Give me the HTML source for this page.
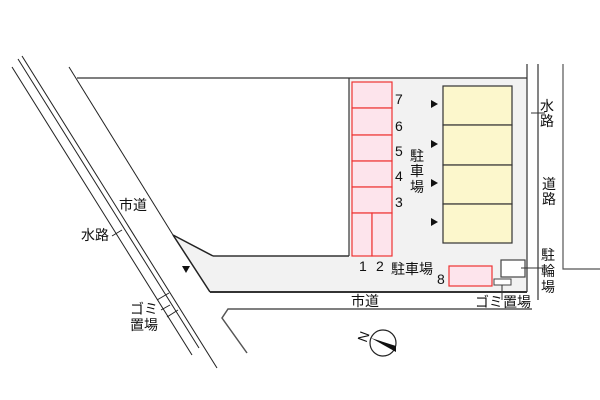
<!DOCTYPE html>
<html><head><meta charset="utf-8"><style>
html,body{margin:0;padding:0;background:#fff;}
svg{display:block;}
text{font-family:"Liberation Sans","Noto Sans CJK JP",sans-serif;font-size:14px;fill:#111;}
</style></head><body>
<svg width="600" height="400" viewBox="0 0 600 400" xmlns="http://www.w3.org/2000/svg">
<polygon points="173,235 213,256 349,256 349,78 527,78 527,292 210,292" fill="#f2f2f2"/>
<polygon points="77,78 349,78 349,256 213,256 173,235" fill="#fff"/>
<line x1="77" y1="78" x2="527" y2="78" stroke="#333" stroke-width="1.2"/>
<line x1="349" y1="78" x2="349" y2="256" stroke="#333" stroke-width="1.2"/>
<line x1="213" y1="256" x2="349" y2="256" stroke="#333" stroke-width="1.5"/>
<line x1="173" y1="235" x2="213" y2="256" stroke="#222" stroke-width="1.5"/>
<line x1="173" y1="235" x2="210" y2="292" stroke="#222" stroke-width="1.5"/>
<line x1="210" y1="292" x2="527" y2="292" stroke="#333" stroke-width="2"/>
<line x1="527" y1="64" x2="527" y2="292" stroke="#333" stroke-width="1.2"/>
<line x1="538" y1="64" x2="538" y2="300" stroke="#333" stroke-width="1.2"/>
<polyline points="563,64 563,269 600,269" fill="none" stroke="#555" stroke-width="1.2"/>
<polyline points="247,353 222,318 228,309 532,309" fill="none" stroke="#555" stroke-width="1.5"/>
<line x1="69" y1="67" x2="173" y2="235" stroke="#222" stroke-width="1"/>
<line x1="12" y1="67" x2="192" y2="355" stroke="#222" stroke-width="1"/>
<line x1="18" y1="59" x2="199" y2="348" stroke="#222" stroke-width="1"/>
<line x1="22" y1="56" x2="217" y2="368" stroke="#222" stroke-width="1"/>
<line x1="157" y1="300" x2="169" y2="293" stroke="#222" stroke-width="1"/>
<line x1="167" y1="317" x2="178" y2="310" stroke="#222" stroke-width="1"/>
<line x1="161" y1="310" x2="170" y2="305" stroke="#222" stroke-width="1"/>
<line x1="112" y1="236" x2="122" y2="230" stroke="#222" stroke-width="1"/>
<polygon points="182,266 190,266 186,273" fill="#111"/>
<g fill="#fde4ec" stroke="#e33" stroke-width="1.2">
<rect x="352" y="82" width="40" height="26"/>
<rect x="352" y="108" width="40" height="27"/>
<rect x="352" y="135" width="40" height="26"/>
<rect x="352" y="161" width="40" height="26"/>
<rect x="352" y="187" width="40" height="26"/>
<rect x="352" y="213" width="20" height="43"/>
<rect x="372" y="213" width="20" height="43"/>
<rect x="449" y="266" width="43" height="20"/>
</g>
<g fill="#fcf7cc" stroke="#333" stroke-width="1.2">
<rect x="443" y="86" width="69" height="39"/>
<rect x="443" y="125" width="69" height="40"/>
<rect x="443" y="165" width="69" height="39"/>
<rect x="443" y="204" width="69" height="39"/>
</g>
<g fill="#111">
<polygon points="431,100 438,104 431,108"/>
<polygon points="431,140 438,144 431,148"/>
<polygon points="431,179 438,183 431,187"/>
<polygon points="431,218 438,222 431,226"/>
</g>
<rect x="501" y="260" width="24" height="17" fill="#fff" stroke="#444" stroke-width="1.2"/>
<rect x="494" y="279" width="17" height="6" fill="#fff" stroke="#444" stroke-width="1"/>
<line x1="521" y1="268" x2="546" y2="268" stroke="#333"/>
<line x1="502" y1="285" x2="502" y2="300" stroke="#333"/>
<line x1="531" y1="113" x2="545" y2="113" stroke="#333"/>
<text x="395" y="104">7</text>
<text x="395" y="131">6</text>
<text x="395" y="156">5</text>
<text x="395" y="181">4</text>
<text x="395" y="207">3</text>
<text x="359" y="271">1</text>
<text x="376" y="271">2</text>
<text x="437" y="284">8</text>
<text x="410" y="161">駐</text>
<text x="410" y="176">車</text>
<text x="410" y="192">場</text>
<text x="391" y="274">駐車場</text>
<text x="351" y="306">市道</text>
<text x="475" y="307">ゴミ置場</text>
<text x="540" y="111">水</text>
<text x="540" y="126">路</text>
<text x="542" y="189">道</text>
<text x="542" y="204">路</text>
<text x="541" y="260">駐</text>
<text x="541" y="276">輪</text>
<text x="541" y="292">場</text>
<text x="119" y="210">市道</text>
<text x="81" y="240">水路</text>
<text x="130" y="314">ゴミ</text>
<text x="130" y="330">置場</text>
<circle cx="383" cy="343" r="13" fill="#fff" stroke="#222" stroke-width="1.2"/>
<polygon points="371,338 396,346 396,352" fill="#111"/>
<text x="360" y="342" font-size="9" transform="rotate(-70 364 338)">N</text>
</svg>
</body></html>
